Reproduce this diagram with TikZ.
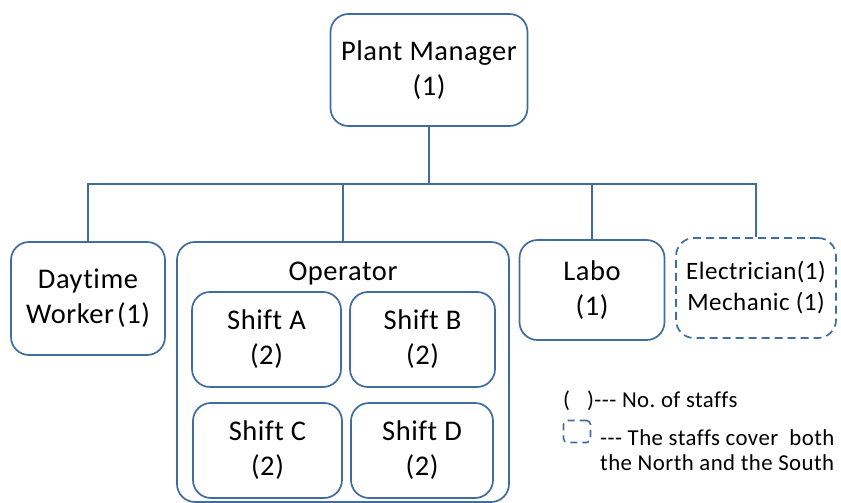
\documentclass[tikz,border=0pt]{standalone}
\usepackage{fontspec}
\setmainfont{Carlito}[Ligatures={NoCommon,NoRare},LetterSpace=2]
\definecolor{lineblue}{RGB}{64,108,158}
\newcommand\mydash{-\kern0.5pt-\kern0.5pt-}
\frenchspacing
\begin{document}
\begin{tikzpicture}[x=1pt,y=-1pt,
  box/.style={draw=lineblue,line width=1.7pt,rounded corners=18pt,fill=white,align=center,inner sep=0pt,
    font=\fontsize{28.5}{35}\selectfont},
  link/.style={draw=lineblue,line width=1.7pt},
  legend/.style={font=\fontsize{22.8}{25}\selectfont,inner sep=0pt}]
\useasboundingbox (0,0) rectangle (841,503);
\node[box,minimum width=197pt,minimum height=112pt] (pm) at (429,70) {Plant Manager\\(1)};
\node[box,minimum width=154pt,minimum height=113pt] (day) at (88,298.5) {Daytime\\Worker\hspace{3pt}(1)};
\node[box,minimum width=332pt,minimum height=260pt] (op) at (343,372) {};
\node[font=\fontsize{28.5}{35}\selectfont,inner sep=0pt,anchor=base] (oplabel) at (343,280) {Operator};
\node[box,minimum width=149pt,minimum height=95pt] (sa) at (266.5,339.5) {Shift A\\(2)};
\node[box,minimum width=145pt,minimum height=95pt] (sb) at (422.5,339.5) {Shift B\\(2)};
\node[box,minimum width=149pt,minimum height=95pt] (sc) at (267.5,450.5) {Shift C\\(2)};
\node[box,minimum width=142pt,minimum height=95pt] (sd) at (422,450.5) {Shift D\\(2)};
\node[box,minimum width=145pt,minimum height=100pt] (labo) at (592,290) {Labo\\(1)};
\node[box,dashed,dash pattern=on 8pt off 5pt,minimum width=160pt,minimum height=100pt,
  font=\fontsize{25}{31}\selectfont] (elec) at (756,288) {Electrician(1)\\Mechanic (1)};
\coordinate (bus) at (0,184);
\draw[link] (pm.south) -- (pm.south |- bus);
\draw[link] (day.north) -- (day.north |- bus) -- (elec.north |- bus) -- (elec.north);
\draw[link] (op.north |- bus) -- (op.north);
\draw[link] (labo.north |- bus) -- (labo.north);
% legend
\node[legend,anchor=base west] (leg1) at (563,407) {(\hspace{17pt})\mydash\ No. of staffs};
\node[draw=lineblue,line width=1.6pt,dash pattern=on 7pt off 5pt,rounded corners=4pt,
  minimum width=27pt,minimum height=22pt,inner sep=0pt] (legbox) at (577,431.5) {};
\node[legend,anchor=base west,align=left] (leg2) at (600,445) {\mydash\ The staffs cover\ \ both};
\node[legend,anchor=base west] (leg3) at (600,470) {the North and the South};
\end{tikzpicture}
\end{document}
